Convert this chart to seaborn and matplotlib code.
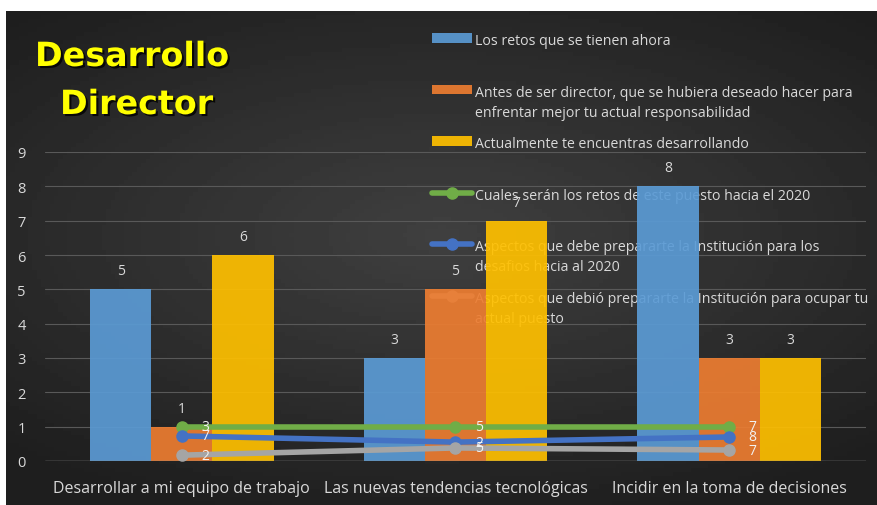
import numpy as np
import pandas as pd
import matplotlib
matplotlib.use("Agg")
import matplotlib.pyplot as plt
import matplotlib.patheffects as pe
import seaborn as sns

# data
categories = ["Desarrollar a mi equipo de trabajo", "Las nuevas tendencias tecnológicas",
              "Incidir en la toma de decisiones"]
bar_series = ["Los retos que se tienen ahora",
              "Antes de ser director, que se hubiera deseado hacer para\nenfrentar mejor tu actual responsabilidad",
              "Actualmente te encuentras desarrollando"]
retos_ahora = [5, 3, 8]
antes_director = [1, 5, 3]
actualmente = [6, 7, 3]

line_series = ["Cuales serán los retos de este puesto hacia el 2020",
               "Aspectos que debe prepararte la Institución para los\ndesafios hacia al 2020",
               "Aspectos que debió prepararte la Institución para ocupar tu\nactual puesto"]
retos_2020_y = [1.0, 1.0, 1.0]
debe_preparar_y = [0.73, 0.55, 0.7]
debio_preparar_y = [0.17, 0.38, 0.32]
retos_2020_lbl = ["3", "5", "7"]
debe_preparar_lbl = ["7", "2", "8"]
debio_preparar_lbl = ["2", "5", "7"]

bar_colors = ["#5B9BD5", "#ED7D31", "#FFC000"]
line_colors = ["#70AD47", "#4472C4", "#A5A5A5"]
txt = "#D9D9D9"

df = pd.DataFrame({
    "categoria": categories * 3,
    "serie": [s for s in bar_series for _ in categories],
    "valor": retos_ahora + antes_director + actualmente,
})

sns.set_style("dark")
plt.rcParams["font.family"] = ["Open Sans", "DejaVu Sans"]

fig = plt.figure(figsize=(8.78, 5.06), dpi=100)
fig.patch.set_facecolor("white")

# dark radial background
bg = fig.add_axes([6 / 878, 0, 872 / 878, 494 / 506], zorder=-10)
gx, gy = np.meshgrid(np.linspace(-1, 1, 200), np.linspace(-1, 1, 120))
r = np.sqrt((gx * 0.9) ** 2 + (gy * 1.1 + 0.1) ** 2)
bg.imshow(0.25 - 0.1 * np.clip(r, 0, 1.3), cmap="gray", vmin=0, vmax=1,
          aspect="auto", extent=[0, 1, 0, 1])
bg.set_axis_off()

ax = fig.add_axes([45 / 878, (506 - 462) / 506, 821 / 878, 309 / 506])
ax.set_facecolor("none")

sns.barplot(data=df, x="categoria", y="valor", hue="serie", palette=bar_colors,
            width=0.67, gap=0, ax=ax, zorder=3, alpha=0.92, saturation=1,
            linewidth=0, edgecolor="none")

for cont in ax.containers:
    for rect in cont:
        h = rect.get_height()
        ax.annotate(f"{h:g}", (rect.get_x() + rect.get_width() / 2, h),
                    xytext=(0, 8), textcoords="offset points", ha="center",
                    va="bottom", color=txt, fontsize=10, zorder=6)

x = np.arange(len(categories))
handles = list(ax.get_legend_handles_labels()[0])
for ys, lbls, c, name in zip([retos_2020_y, debe_preparar_y, debio_preparar_y],
                             [retos_2020_lbl, debe_preparar_lbl, debio_preparar_lbl],
                             line_colors, line_series):
    h, = ax.plot(x, ys, color=c, lw=4, marker="o", ms=8, zorder=5, label=name,
                 solid_capstyle="round")
    handles.append(h)
    for xi, yi, lb in zip(x, ys, lbls):
        ax.annotate(lb, (xi, yi), xytext=(14, 0), textcoords="offset points",
                    ha="left", va="center", color="#F2F2F2", fontsize=10, zorder=6)

# Excel-like legend: every entry takes two lines so the pitch is even
labels = [l if "\n" in l else l + "\n " for l in bar_series + line_series]
leg = ax.legend(handles, labels, loc="upper left", bbox_to_anchor=(387 / 821, 1.385),
                frameon=False, fontsize=10.2, labelcolor=txt, handlelength=2.8,
                handletextpad=0.25, labelspacing=1.17, borderaxespad=0, borderpad=0)
leg.set_zorder(1)
for t in leg.get_texts():
    t.set_linespacing(1.45)
for col in leg._legend_handle_box.get_children():
    for item in col.get_children():
        item.align = "top"

ax.set_xlim(-0.5, 2.5)
ax.set_ylim(0, 9)
ax.set_yticks(range(10))
ax.grid(axis="y", color="#595959", lw=0.8, zorder=0)
ax.axhline(0, color="#8C8C8C", lw=1, zorder=4)
ax.tick_params(axis="y", colors=txt, labelsize=10.5, length=0, pad=14)
ax.tick_params(axis="x", colors=txt, labelsize=11.5, length=0, pad=14)
ax.set_xlabel("")
ax.set_ylabel("")
for s in ax.spines.values():
    s.set_visible(False)

shadow = [pe.withSimplePatchShadow(offset=(1.5, -1.5), shadow_rgbFace="black", alpha=0.8)]
fig.text(35 / 878, 1 - 67 / 506, "Desarrollo", color="#FFFF00", fontsize=24,
         fontweight="bold", family="DejaVu Sans", va="baseline", path_effects=shadow)
fig.text(60 / 878, 1 - 115 / 506, "Director", color="#FFFF00", fontsize=24,
         fontweight="bold", family="DejaVu Sans", va="baseline", path_effects=shadow)

fig.savefig("out.png", dpi=100)
